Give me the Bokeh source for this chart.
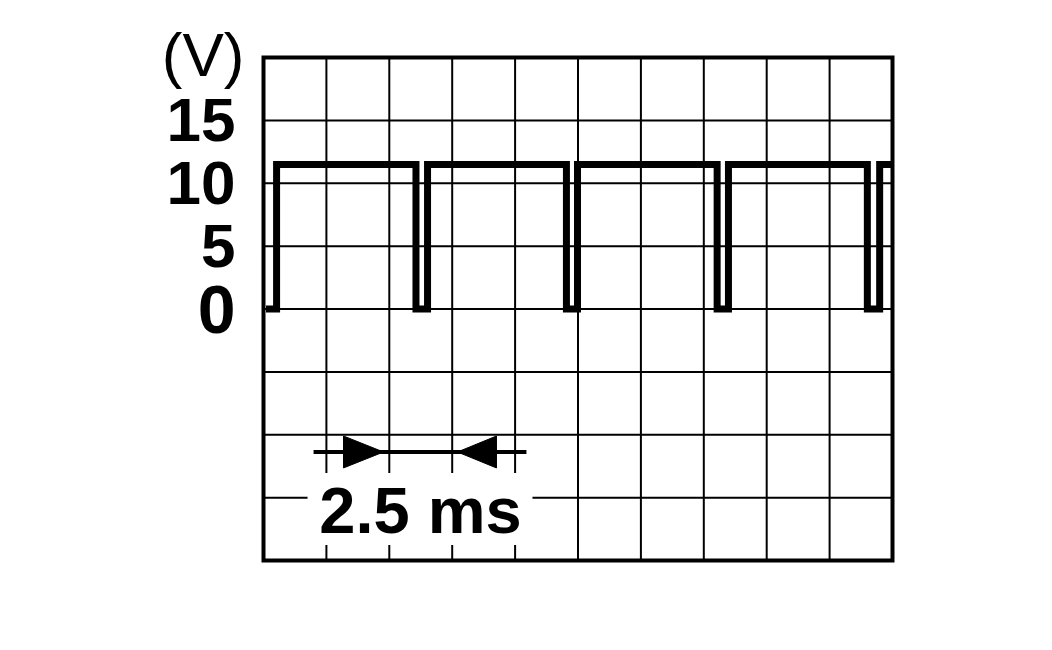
from bokeh.plotting import figure
from bokeh.models import Range1d, ColumnDataSource
from bokeh.core.properties import value
from bokeh.embed import file_html
from bokeh.resources import INLINE

# ---- data ----
time_ms = [0.1, 0.52, 0.52, 6.06, 6.06, 6.52, 6.52, 12.04, 12.04, 12.48, 12.48,
           18.03, 18.03, 18.48, 18.48, 24.0, 24.0, 24.49, 24.49, 25.0]
volts = [0, 0, 11.5, 11.5, 0, 0, 11.5, 11.5, 0, 0, 11.5,
         11.5, 0, 0, 11.5, 11.5, 0, 0, 11.5, 11.5]
y_tick_values = [0, 5, 10, 15]
y_tick_labels = ["0", "5", "10", "15"]
y_grid_values = [-15, -10, -5, 0, 5, 10, 15]
x_grid_values = [2.5, 5, 7.5, 10, 12.5, 15, 17.5, 20, 22.5]
unit_label = "(V)"
span_label = "2.5 ms"

FONT = "Liberation Sans"

# screen layout (pixels)
LEFT, TOP, FRAME_W, FRAME_H, RIGHT, BOTTOM = 263, 57, 629, 503, 152, 82
T0, T1 = 0, 25       # ms shown on the scope screen
V0, V1 = -20, 20     # volts shown on the scope screen
px_ms = FRAME_W / (T1 - T0)
px_v = FRAME_H / (V1 - V0)

p = figure(width=LEFT + FRAME_W + RIGHT, height=TOP + FRAME_H + BOTTOM,
           output_backend="svg", toolbar_location=None,
           x_range=Range1d(T0 - LEFT / px_ms, T1 + RIGHT / px_ms),
           y_range=Range1d(V0 - BOTTOM / px_v, V1 + TOP / px_v),
           min_border=0, min_border_left=0, min_border_right=0,
           min_border_top=0, min_border_bottom=0)
p.background_fill_color = "white"
p.border_fill_color = "white"
p.outline_line_color = None
p.axis.visible = False
p.grid.visible = False

# scope grid
p.segment(x0=x_grid_values, y0=[V0] * len(x_grid_values),
          x1=x_grid_values, y1=[V1] * len(x_grid_values),
          line_color="black", line_width=2)
p.segment(x0=[T0] * len(y_grid_values), y0=y_grid_values,
          x1=[T1] * len(y_grid_values), y1=y_grid_values,
          line_color="black", line_width=2)

# waveform
p.line(time_ms, volts, line_color="black", line_width=7, line_join="miter")

# screen frame
p.quad(left=[T0], right=[T1], bottom=[V0], top=[V1], fill_color=None,
       line_color="black", line_width=4, line_join="miter")

# volt labels
label_src = ColumnDataSource(dict(
    x=[T0 - 28 / px_ms] * len(y_tick_values),
    y=y_tick_values,
    text=y_tick_labels,
    size=["68px" if v == 0 else "62px" for v in y_tick_values],
))
p.text(x="x", y="y", text="text", source=label_src, text_font_size="size",
       text_align="right", text_baseline="middle", text_font=value(FONT),
       text_font_style="bold", text_color="black")
p.text(x=[T0 - 19 / px_ms], y=[20.2], text=[unit_label], text_align="right",
       text_baseline="middle", text_font=value(FONT), text_font_size="62px",
       text_color="black")

# time span annotation
ay = -11.37
p.quad(left=[1.75], right=[10.69], top=[-13.04], bottom=[-18.76],
       fill_color="white", line_color=None)
p.line([1.99, 10.45], [ay, ay], line_color="black", line_width=4)
hh = 1.27
p.patch([3.18, 4.77, 3.18], [ay + hh, ay, ay - hh], fill_color="black", line_color="black")
p.patch([9.26, 7.71, 9.26], [ay + hh, ay, ay - hh], fill_color="black", line_color="black")
p.text(x=[6.24], y=[-16.02], text=[span_label], text_align="center",
       text_baseline="middle", text_font=value(FONT), text_font_style="bold",
       text_font_size="65px", text_color="black")

open("out.html", "w").write(file_html(p, INLINE))
